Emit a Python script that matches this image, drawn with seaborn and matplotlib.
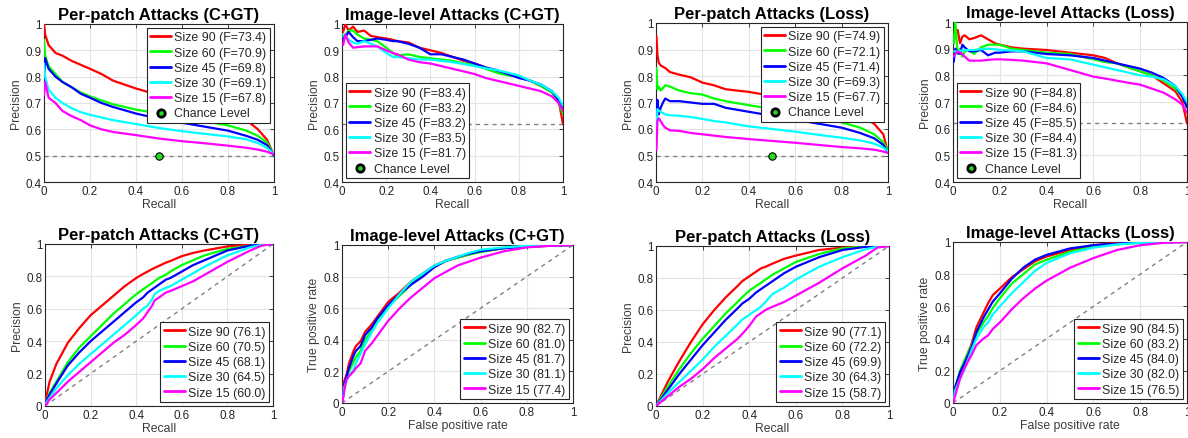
import numpy as np
import pandas as pd
import matplotlib
matplotlib.use("Agg")
import matplotlib.pyplot as plt
from matplotlib.ticker import FuncFormatter
import seaborn as sns

# ---------------- DATA ----------------
sizes = ["Size 90", "Size 60", "Size 45", "Size 30", "Size 15"]
colors = ["#ff0000", "#00ff00", "#0000ff", "#00ffff", "#ff00ff"]

titles_top = ["Per-patch Attacks (C+GT)", "Image-level Attacks (C+GT)",
              "Per-patch Attacks (Loss)", "Image-level Attacks (Loss)"]
titles_bottom = titles_top

# F-scores (top row legends) and AUC-like values (bottom row legends)
f_pp_cgt = [73.4, 70.9, 69.8, 69.1, 67.8]
f_il_cgt = [83.4, 83.2, 83.2, 83.5, 81.7]
f_pp_loss = [74.9, 72.1, 71.4, 69.3, 67.7]
f_il_loss = [84.8, 84.6, 85.5, 84.4, 81.3]
auc_pp_cgt = [76.1, 70.5, 68.1, 64.5, 60.0]
auc_il_cgt = [82.7, 81.0, 81.7, 81.1, 77.4]
auc_pp_loss = [77.1, 72.2, 69.9, 64.3, 58.7]
auc_il_loss = [84.5, 83.2, 84.0, 82.0, 76.5]

chance_pp = 0.5
chance_il = 0.62

# Panel A: per-patch C+GT precision/recall
A_x = [0, 0.005, 0.02, 0.05, 0.08, 0.12, 0.16, 0.2, 0.25, 0.3, 0.4, 0.5, 0.6, 0.7, 0.8, 0.88, 0.93, 0.97, 1.0]
A_90 = [1.0, 0.96, 0.92, 0.89, 0.88, 0.86, 0.845, 0.83, 0.81, 0.785, 0.755, 0.73, 0.71, 0.69, 0.665, 0.635, 0.60, 0.56, 0.50]
A_60 = [0.94, 0.88, 0.84, 0.81, 0.78, 0.76, 0.74, 0.725, 0.71, 0.695, 0.675, 0.66, 0.645, 0.63, 0.615, 0.595, 0.575, 0.55, 0.50]
A_45 = [0.75, 0.87, 0.83, 0.80, 0.78, 0.76, 0.735, 0.72, 0.70, 0.685, 0.66, 0.64, 0.625, 0.61, 0.595, 0.575, 0.56, 0.54, 0.50]
A_30 = [0.85, 0.80, 0.75, 0.72, 0.70, 0.68, 0.665, 0.655, 0.645, 0.635, 0.62, 0.605, 0.593, 0.583, 0.573, 0.562, 0.548, 0.53, 0.505]
A_15 = [0.73, 0.78, 0.72, 0.70, 0.67, 0.65, 0.635, 0.615, 0.60, 0.59, 0.578, 0.565, 0.555, 0.547, 0.538, 0.53, 0.523, 0.515, 0.505]

# Panel B: image-level C+GT precision/recall
B_x = [0.005, 0.015, 0.03, 0.05, 0.07, 0.1, 0.13, 0.16, 0.2, 0.23, 0.25, 0.3, 0.35, 0.4, 0.45, 0.5, 0.55, 0.6, 0.65, 0.7, 0.75, 0.8, 0.85, 0.9, 0.95, 0.98, 1.0]
B_90 = [0.97, 1.0, 0.975, 0.99, 0.97, 0.975, 0.955, 0.95, 0.945, 0.94, 0.935, 0.93, 0.91, 0.9, 0.89, 0.875, 0.86, 0.85, 0.835, 0.82, 0.81, 0.80, 0.785, 0.765, 0.74, 0.71, 0.62]
B_60 = [0.95, 0.96, 0.975, 0.975, 0.96, 0.945, 0.94, 0.935, 0.91, 0.89, 0.88, 0.885, 0.875, 0.87, 0.865, 0.86, 0.85, 0.845, 0.83, 0.815, 0.805, 0.80, 0.785, 0.765, 0.74, 0.70, 0.66]
B_45 = [0.945, 0.95, 0.97, 0.95, 0.935, 0.935, 0.94, 0.945, 0.94, 0.935, 0.935, 0.925, 0.91, 0.885, 0.885, 0.875, 0.865, 0.85, 0.835, 0.825, 0.81, 0.795, 0.785, 0.77, 0.745, 0.71, 0.68]
B_30 = [0.96, 0.955, 0.94, 0.93, 0.925, 0.935, 0.925, 0.915, 0.89, 0.875, 0.875, 0.87, 0.865, 0.865, 0.86, 0.855, 0.848, 0.84, 0.832, 0.825, 0.815, 0.805, 0.785, 0.77, 0.745, 0.72, 0.69]
B_15 = [0.92, 0.96, 0.93, 0.91, 0.912, 0.915, 0.915, 0.915, 0.90, 0.89, 0.885, 0.865, 0.855, 0.85, 0.84, 0.83, 0.82, 0.81, 0.795, 0.785, 0.775, 0.765, 0.755, 0.745, 0.725, 0.70, 0.67]

# Panel C: per-patch Loss precision/recall
C_x = [0.002, 0.006, 0.012, 0.02, 0.03, 0.04, 0.06, 0.1, 0.15, 0.2, 0.25, 0.3, 0.4, 0.5, 0.6, 0.7, 0.8, 0.88, 0.94, 0.98, 1.0]
C_90 = [0.95, 0.88, 0.85, 0.84, 0.835, 0.83, 0.815, 0.805, 0.795, 0.775, 0.765, 0.75, 0.74, 0.725, 0.71, 0.695, 0.675, 0.65, 0.62, 0.58, 0.51]
C_60 = [0.83, 0.75, 0.76, 0.745, 0.755, 0.765, 0.76, 0.745, 0.735, 0.73, 0.715, 0.705, 0.69, 0.675, 0.66, 0.645, 0.625, 0.605, 0.58, 0.55, 0.52]
C_45 = [0.61, 0.71, 0.655, 0.68, 0.70, 0.715, 0.705, 0.705, 0.70, 0.695, 0.695, 0.68, 0.665, 0.65, 0.635, 0.62, 0.605, 0.585, 0.565, 0.54, 0.51]
C_30 = [0.56, 0.675, 0.67, 0.665, 0.66, 0.655, 0.652, 0.65, 0.645, 0.638, 0.63, 0.625, 0.61, 0.60, 0.59, 0.578, 0.567, 0.557, 0.545, 0.53, 0.515]
C_15 = [0.52, 0.63, 0.64, 0.63, 0.615, 0.605, 0.595, 0.593, 0.585, 0.58, 0.575, 0.57, 0.562, 0.555, 0.548, 0.54, 0.532, 0.527, 0.522, 0.515, 0.51]

# Panel D: image-level Loss precision/recall
D_x = [0.003, 0.01, 0.02, 0.03, 0.04, 0.05, 0.07, 0.09, 0.12, 0.15, 0.18, 0.2, 0.25, 0.3, 0.4, 0.5, 0.6, 0.65, 0.7, 0.75, 0.8, 0.85, 0.9, 0.95, 0.98, 1.0]
D_90 = [0.92, 0.96, 0.97, 0.92, 0.945, 0.95, 0.935, 0.94, 0.95, 0.935, 0.92, 0.915, 0.905, 0.9, 0.895, 0.885, 0.875, 0.865, 0.845, 0.83, 0.815, 0.80, 0.77, 0.74, 0.70, 0.62]
D_60 = [0.92, 1.0, 0.88, 0.90, 0.87, 0.89, 0.895, 0.88, 0.905, 0.915, 0.915, 0.915, 0.90, 0.895, 0.885, 0.88, 0.86, 0.85, 0.845, 0.83, 0.815, 0.80, 0.78, 0.75, 0.72, 0.68]
D_45 = [0.85, 0.90, 0.885, 0.88, 0.915, 0.905, 0.89, 0.89, 0.895, 0.875, 0.885, 0.885, 0.89, 0.89, 0.88, 0.875, 0.865, 0.855, 0.845, 0.835, 0.825, 0.81, 0.79, 0.76, 0.72, 0.68]
D_30 = [0.89, 0.89, 0.89, 0.892, 0.893, 0.895, 0.895, 0.895, 0.898, 0.90, 0.898, 0.895, 0.893, 0.89, 0.865, 0.86, 0.84, 0.83, 0.82, 0.81, 0.80, 0.795, 0.785, 0.76, 0.73, 0.70]
D_15 = [0.87, 0.88, 0.89, 0.885, 0.88, 0.87, 0.855, 0.855, 0.855, 0.858, 0.86, 0.86, 0.858, 0.855, 0.845, 0.82, 0.795, 0.788, 0.78, 0.772, 0.765, 0.75, 0.735, 0.71, 0.69, 0.66]

# Panel E: per-patch C+GT (bottom)
E_x = [0, 0.005, 0.02, 0.05, 0.1, 0.15, 0.2, 0.25, 0.3, 0.35, 0.4, 0.43, 0.45, 0.47, 0.48, 0.5, 0.53, 0.55, 0.6, 0.65, 0.7, 0.8, 0.9, 0.95, 1.0]
E_90 = [0, 0.05, 0.15, 0.26, 0.39, 0.48, 0.56, 0.62, 0.68, 0.74, 0.79, 0.815, 0.83, 0.845, 0.852, 0.865, 0.885, 0.895, 0.925, 0.945, 0.96, 0.985, 0.997, 1.0, 1.0]
E_60 = [0, 0.03, 0.08, 0.15, 0.27, 0.36, 0.43, 0.50, 0.57, 0.63, 0.69, 0.72, 0.74, 0.76, 0.77, 0.79, 0.81, 0.83, 0.87, 0.90, 0.93, 0.97, 0.99, 0.997, 1.0]
E_45 = [0, 0.03, 0.07, 0.14, 0.25, 0.33, 0.40, 0.46, 0.52, 0.58, 0.64, 0.67, 0.70, 0.72, 0.73, 0.75, 0.78, 0.79, 0.83, 0.87, 0.90, 0.96, 0.99, 0.997, 1.0]
E_30 = [0, 0.02, 0.05, 0.11, 0.19, 0.26, 0.32, 0.38, 0.44, 0.50, 0.56, 0.60, 0.62, 0.66, 0.69, 0.71, 0.73, 0.74, 0.78, 0.82, 0.86, 0.93, 0.98, 0.995, 1.0]
E_15 = [0, 0.01, 0.04, 0.08, 0.15, 0.21, 0.27, 0.33, 0.39, 0.44, 0.50, 0.54, 0.58, 0.62, 0.65, 0.67, 0.70, 0.71, 0.74, 0.77, 0.81, 0.89, 0.96, 0.99, 1.0]

# Panel F: image-level C+GT ROC
F_x = [0, 0.005, 0.01, 0.02, 0.03, 0.05, 0.06, 0.08, 0.1, 0.13, 0.15, 0.2, 0.25, 0.3, 0.35, 0.4, 0.45, 0.5, 0.55, 0.6, 0.7, 0.8, 0.9, 1.0]
F_90 = [0, 0.1, 0.14, 0.18, 0.25, 0.33, 0.36, 0.39, 0.45, 0.50, 0.54, 0.64, 0.70, 0.77, 0.82, 0.87, 0.90, 0.92, 0.94, 0.96, 0.98, 0.99, 0.995, 1.0]
F_60 = [0, 0.05, 0.12, 0.16, 0.2, 0.26, 0.29, 0.33, 0.40, 0.46, 0.52, 0.61, 0.68, 0.75, 0.81, 0.86, 0.90, 0.92, 0.94, 0.955, 0.98, 0.99, 0.995, 1.0]
F_45 = [0, 0.05, 0.12, 0.17, 0.22, 0.30, 0.33, 0.36, 0.43, 0.48, 0.53, 0.62, 0.69, 0.75, 0.80, 0.86, 0.90, 0.925, 0.945, 0.96, 0.98, 0.99, 0.995, 1.0]
F_30 = [0, 0.04, 0.10, 0.14, 0.17, 0.21, 0.25, 0.31, 0.37, 0.45, 0.50, 0.60, 0.69, 0.77, 0.82, 0.87, 0.90, 0.925, 0.95, 0.97, 0.985, 0.995, 0.998, 1.0]
F_15 = [0, 0.03, 0.08, 0.15, 0.17, 0.20, 0.22, 0.25, 0.33, 0.38, 0.42, 0.52, 0.60, 0.67, 0.73, 0.79, 0.83, 0.87, 0.895, 0.92, 0.96, 0.985, 0.995, 1.0]

# Panel G: per-patch Loss (bottom)
G_x = [0, 0.05, 0.1, 0.15, 0.2, 0.25, 0.3, 0.35, 0.37, 0.4, 0.43, 0.45, 0.47, 0.5, 0.55, 0.6, 0.7, 0.8, 0.9, 0.95, 1.0]
G_90 = [0, 0.15, 0.28, 0.40, 0.51, 0.60, 0.68, 0.75, 0.78, 0.81, 0.84, 0.86, 0.87, 0.89, 0.92, 0.94, 0.975, 0.99, 0.998, 1.0, 1.0]
G_60 = [0, 0.12, 0.23, 0.33, 0.42, 0.50, 0.58, 0.65, 0.68, 0.72, 0.75, 0.77, 0.79, 0.82, 0.86, 0.90, 0.95, 0.985, 0.997, 1.0, 1.0]
G_45 = [0, 0.10, 0.20, 0.29, 0.38, 0.46, 0.54, 0.61, 0.64, 0.67, 0.71, 0.73, 0.75, 0.78, 0.83, 0.87, 0.93, 0.975, 0.995, 1.0, 1.0]
G_30 = [0, 0.08, 0.15, 0.22, 0.29, 0.37, 0.44, 0.51, 0.54, 0.57, 0.60, 0.62, 0.65, 0.70, 0.74, 0.79, 0.87, 0.93, 0.98, 0.995, 1.0]
G_15 = [0, 0.06, 0.12, 0.17, 0.23, 0.30, 0.36, 0.42, 0.45, 0.50, 0.56, 0.58, 0.60, 0.62, 0.65, 0.69, 0.77, 0.86, 0.94, 0.99, 1.0]

# Panel H: image-level Loss ROC
H_x = [0, 0.01, 0.03, 0.05, 0.08, 0.1, 0.13, 0.15, 0.17, 0.2, 0.25, 0.3, 0.35, 0.4, 0.5, 0.6, 0.7, 0.8, 0.9, 1.0]
H_90 = [0, 0.1, 0.18, 0.26, 0.37, 0.47, 0.56, 0.62, 0.67, 0.71, 0.78, 0.83, 0.88, 0.91, 0.95, 0.98, 0.995, 1.0, 1.0, 1.0]
H_60 = [0, 0.1, 0.2, 0.27, 0.36, 0.43, 0.50, 0.54, 0.59, 0.65, 0.74, 0.80, 0.86, 0.89, 0.94, 0.97, 0.985, 0.995, 1.0, 1.0]
H_45 = [0, 0.1, 0.19, 0.25, 0.35, 0.44, 0.53, 0.58, 0.63, 0.68, 0.77, 0.84, 0.89, 0.92, 0.96, 0.98, 0.99, 0.998, 1.0, 1.0]
H_30 = [0, 0.08, 0.15, 0.21, 0.33, 0.40, 0.47, 0.50, 0.55, 0.60, 0.68, 0.75, 0.82, 0.87, 0.93, 0.965, 0.985, 0.995, 1.0, 1.0]
H_15 = [0, 0.05, 0.15, 0.22, 0.30, 0.36, 0.40, 0.42, 0.46, 0.50, 0.58, 0.65, 0.71, 0.76, 0.84, 0.90, 0.95, 0.98, 0.995, 1.0]

x_ticks = [0, 0.2, 0.4, 0.6, 0.8, 1.0]
y_ticks_top = [0.4, 0.5, 0.6, 0.7, 0.8, 0.9, 1.0]
y_ticks_bottom = [0, 0.2, 0.4, 0.6, 0.8, 1.0]

# ---------------- STYLE ----------------
sns.set_style("whitegrid")
plt.rcParams["font.family"] = ["Liberation Sans", "DejaVu Sans"]
DARK = "#262626"
GRID = "#e3e3e3"

fig = plt.figure(figsize=(11.88, 4.39), dpi=100)
W, H = 1188.0, 439.0


def px_axes(x0, y0, x1, y1):
    return fig.add_axes([x0 / W, 1 - y1 / H, (x1 - x0) / W, (y1 - y0) / H])


fmt = FuncFormatter(lambda v, p: "%g" % round(v, 2))

panels = [
    ((44, 25, 274, 183), titles_top[0], A_x, [A_90, A_60, A_45, A_30, A_15], f_pp_cgt, "F", "pr_pp", "upper right", "Recall", "Precision"),
    ((342, 25, 563, 183), titles_top[1], B_x, [B_90, B_60, B_45, B_30, B_15], f_il_cgt, "F", "pr_il", "lower left", "Recall", "Precision"),
    ((656, 24, 888, 183), titles_top[2], C_x, [C_90, C_60, C_45, C_30, C_15], f_pp_loss, "F", "pr_pp", "upper right", "Recall", "Precision"),
    ((953, 23, 1187, 183), titles_top[3], D_x, [D_90, D_60, D_45, D_30, D_15], f_il_loss, "F", "pr_il", "lower left", "Recall", "Precision"),
    ((45, 245, 273, 407), titles_bottom[0], E_x, [E_90, E_60, E_45, E_30, E_15], auc_pp_cgt, "A", "roc", "lower right", "Recall", "Precision"),
    ((342, 246, 573, 404), titles_bottom[1], F_x, [F_90, F_60, F_45, F_30, F_15], auc_il_cgt, "A", "roc", "lower right", "False positive rate", "True positive rate"),
    ((656, 247, 889, 407), titles_bottom[2], G_x, [G_90, G_60, G_45, G_30, G_15], auc_pp_loss, "A", "roc", "lower right", "Recall", "Precision"),
    ((953, 243, 1187, 404), titles_bottom[3], H_x, [H_90, H_60, H_45, H_30, H_15], auc_il_loss, "A", "roc", "lower right", "False positive rate", "True positive rate"),
]

for rect, title, xs, ys, vals, lab, kind, loc, xl, yl in panels:
    ax = px_axes(*rect)
    ax.set_facecolor("white")
    if kind == "pr_pp":
        ax.axhline(chance_pp, ls=(0, (3, 3)), color="#808080", lw=1.0, zorder=1)
    elif kind == "pr_il":
        ax.axhline(chance_il, ls=(0, (3, 3)), color="#808080", lw=1.0, zorder=1)
    else:
        ax.axline((0, 0), slope=1, ls=(0, (3, 3)), color="#808080", lw=1.0, zorder=1)

    for name, col, yv, v in zip(sizes, colors, ys, vals):
        if lab == "F":
            label = f"{name} (F={v:.1f})"
        else:
            label = f"{name} ({v:.1f})"
        df = pd.DataFrame({"x": xs, "y": yv})
        sns.lineplot(data=df, x="x", y="y", color=col, lw=1.6, ax=ax, label=label,
                     sort=False, estimator=None, zorder=3)

    if kind in ("pr_pp", "pr_il"):
        cy = chance_pp if kind == "pr_pp" else chance_il
        sns.scatterplot(x=[0.5], y=[cy], ax=ax, color="#22dd22", edgecolor="black",
                        linewidth=0.8, s=28, zorder=4, label="Chance Level")
        ax.set_ylim(0.4, 1.0)
        ax.set_yticks(y_ticks_top)
    else:
        ax.set_ylim(0, 1.0)
        ax.set_yticks(y_ticks_bottom)
    ax.set_xlim(0, 1)
    ax.set_xticks(x_ticks)
    ax.xaxis.set_major_formatter(fmt)
    ax.yaxis.set_major_formatter(fmt)

    ax.grid(True, color=GRID, lw=0.8)
    for s in ax.spines.values():
        s.set_color(DARK)
        s.set_linewidth(0.8)
        s.set_visible(True)
    ax.tick_params(direction="in", length=3, width=0.6, color=DARK, labelsize=8.4,
                   labelcolor=DARK, pad=2, top=True, right=True)
    ax.set_xlabel(xl, fontsize=8.8, color="#3c3c3c", labelpad=1)
    ax.set_ylabel(yl, fontsize=8.8, color="#3c3c3c", labelpad=2)
    ax.set_title(title, fontsize=12, fontweight="bold", color="black", pad=3.5)

    leg = ax.legend(loc=loc, fontsize=8.9, frameon=True, fancybox=False, framealpha=1,
                    edgecolor=DARK, handlelength=1.7, handletextpad=0.25,
                    labelspacing=0.26, borderpad=0.3, borderaxespad=0.3)
    leg.get_frame().set_linewidth(0.8)
    leg.set_zorder(10)
    for h in leg.legend_handles:
        try:
            h.set_linewidth(2.0)
        except Exception:
            pass

fig.savefig("out.png", dpi=100, facecolor="white")
